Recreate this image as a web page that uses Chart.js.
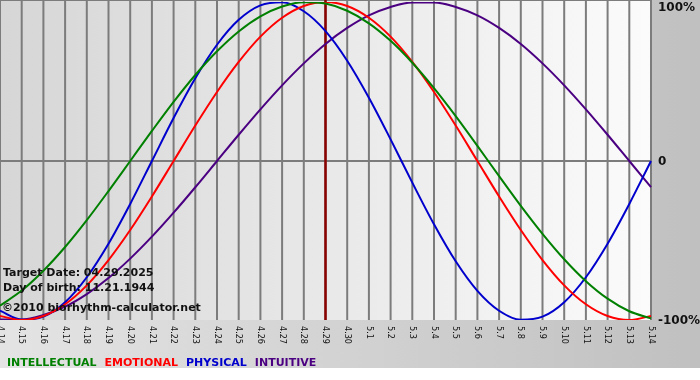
<!DOCTYPE html>
<html>
<head>
<meta charset="utf-8">
<script src="https://cdn.jsdelivr.net/npm/chart.js@4.4.1/dist/chart.umd.min.js"></script>
<style>
body { margin: 0; background: #fff; }
#wrap { position: relative; width: 700px; height: 380px; }
</style>
</head>
<body>
<div id="wrap"><canvas id="bioChart"></canvas></div>
<script>
// days shown on the x axis
var dayLabels = ['4.14', '4.15', '4.16', '4.17', '4.18', '4.19', '4.20', '4.21', '4.22', '4.23', '4.24',
    '4.25', '4.26', '4.27', '4.28', '4.29', '4.30', '5.1', '5.2', '5.3', '5.4', '5.5', '5.6', '5.7',
    '5.8', '5.9', '5.10', '5.11', '5.12', '5.13', '5.14'];

// cycle values in percent, one per day
var intellectual = [-91.0, -81.5, -69.0, -54.1, -37.2, -18.9, 0, 18.9, 37.2, 54.1, 69.0, 81.5, 91.0, 97.2, 99.9,
    99.0, 94.5, 86.6, 75.6, 61.8, 45.8, 28.2, 9.5, -9.5, -28.2, -45.8, -61.8, -75.6, -86.6, -94.5, -99.0];
var emotional = [-97.5, -100, -97.5, -90.1, -78.2, -62.3, -43.4, -22.3, 0, 22.3, 43.4, 62.3, 78.2, 90.1, 97.5,
    100, 97.5, 90.1, 78.2, 62.3, 43.4, 22.3, 0, -22.3, -43.4, -62.3, -78.2, -90.1, -97.5, -100, -97.5];
var physical = [-94.2, -99.8, -97.9, -88.8, -73.1, -52.0, -27.0, 0, 27.0, 52.0, 73.1, 88.8, 97.9, 99.8, 94.2,
    81.7, 63.1, 39.8, 13.6, -13.6, -39.8, -63.1, -81.7, -94.2, -99.8, -97.9, -88.8, -73.1, -52.0, -27.0, 0];
var intuitive = [-99.7, -99.7, -96.9, -91.6, -83.7, -73.6, -61.4, -47.6, -32.5, -16.5, 0, 16.5, 32.5, 47.6, 61.4,
    73.6, 83.7, 91.6, 96.9, 99.7, 99.7, 96.9, 91.6, 83.7, 73.6, 61.4, 47.6, 32.5, 16.5, 0, -16.5];

var targetDay = '4.29';
var yTickValues = [100, 0, -100];
var yTickLabels = ['100%', '0', '-100%'];
var seriesNames = ['INTELLECTUAL', 'EMOTIONAL', 'PHYSICAL', 'INTUITIVE'];
var seriesColors = ['#008000', '#ff0000', '#0000cd', '#4b0082'];
var infoLines = ['Target Date: 04.29.2025', 'Day of birth: 11.21.1944', '\u00a92010 biorhythm-calculator.net'];

var bioPlugin = {
    id: 'bioPlugin',
    beforeDraw: function (chart) {
        var ctx = chart.ctx;
        var area = chart.chartArea;
        var xs = chart.scales.x;
        var ys = chart.scales.y;
        ctx.save();

        // outer frame
        var g = ctx.createLinearGradient(0, 0, 700, 0);
        g.addColorStop(0, '#e4e4e4');
        g.addColorStop(1, '#c0c0c0');
        ctx.fillStyle = g;
        ctx.fillRect(0, 0, 700, 368);

        // plot background
        var pg = ctx.createLinearGradient(area.left, 0, area.right, 0);
        pg.addColorStop(0, '#d6d6d6');
        pg.addColorStop(1, '#fbfbfb');
        ctx.fillStyle = pg;
        ctx.fillRect(area.left, area.top - 2, area.right - area.left, area.bottom - area.top + 2);

        // grid
        ctx.strokeStyle = '#7c7c7c';
        ctx.lineWidth = 2;
        for (var i = 0; i < dayLabels.length; i++) {
            var px = xs.getPixelForValue(i);
            ctx.beginPath();
            ctx.moveTo(px, area.top - 2);
            ctx.lineTo(px, area.bottom);
            ctx.stroke();
        }
        var y0 = ys.getPixelForValue(0);
        ctx.beginPath();
        ctx.moveTo(area.left, y0);
        ctx.lineTo(area.right, y0);
        ctx.stroke();
        ctx.lineWidth = 1;
        ctx.beginPath();
        ctx.moveTo(area.left, 0.5);
        ctx.lineTo(area.right, 0.5);
        ctx.stroke();

        // target day marker
        var tx = xs.getPixelForValue(dayLabels.indexOf(targetDay));
        ctx.strokeStyle = '#8b0000';
        ctx.lineWidth = 2.5;
        ctx.beginPath();
        ctx.moveTo(tx, area.top - 2);
        ctx.lineTo(tx, area.bottom);
        ctx.stroke();
        ctx.restore();
    },
    afterDraw: function (chart) {
        var ctx = chart.ctx;
        var area = chart.chartArea;
        var xs = chart.scales.x;
        var ys = chart.scales.y;
        ctx.save();

        // info text
        ctx.fillStyle = '#111';
        ctx.font = 'bold 11px "DejaVu Sans"';
        ctx.textBaseline = 'alphabetic';
        ctx.textAlign = 'left';
        ctx.fillText(infoLines[0], 3, 276);
        ctx.fillText(infoLines[1], 3, 291);
        ctx.fillText(infoLines[2], 2, 311);

        // right axis labels
        ctx.font = 'bold 12px "DejaVu Sans"';
        ctx.textBaseline = 'middle';
        yTickValues.forEach(function (v, i) {
            var py = Math.max(ys.getPixelForValue(v), 7);
            ctx.fillText(yTickLabels[i], area.right + 7, py + 1);
        });

        // day labels, rotated
        ctx.font = '9px "DejaVu Sans Condensed", "Liberation Sans"';
        ctx.fillStyle = '#111';
        ctx.textAlign = 'left';
        ctx.textBaseline = 'middle';
        dayLabels.forEach(function (lab, i) {
            var px = xs.getPixelForValue(i);
            ctx.save();
            ctx.translate(px, area.bottom + 6);
            ctx.rotate(Math.PI / 2);
            ctx.fillText(lab, 0, 0);
            ctx.restore();
        });

        // legend
        ctx.font = 'bold 11px "DejaVu Sans"';
        ctx.textBaseline = 'alphabetic';
        var lx = 7;
        seriesNames.forEach(function (name, i) {
            ctx.fillStyle = seriesColors[i];
            ctx.fillText(name, lx, 366);
            lx += ctx.measureText(name).width + 8;
        });
        ctx.restore();
    }
};

var ctx = document.getElementById('bioChart').getContext('2d');
var chart = new Chart(ctx, {
    type: 'line',
    data: {
        labels: dayLabels,
        datasets: [
            { label: seriesNames[0], data: intellectual, borderColor: seriesColors[0] },
            { label: seriesNames[1], data: emotional, borderColor: seriesColors[1] },
            { label: seriesNames[2], data: physical, borderColor: seriesColors[2] },
            { label: seriesNames[3], data: intuitive, borderColor: seriesColors[3] }
        ]
    },
    options: {
        responsive: true,
        maintainAspectRatio: false,
        animation: false,
        layout: { padding: { left: 0, right: 49, top: 2, bottom: 60 } },
        scales: {
            x: { display: false },
            y: { display: false, min: -100, max: 100 }
        },
        elements: {
            point: { radius: 0 },
            line: { cubicInterpolationMode: 'monotone', borderWidth: 2, fill: false }
        },
        plugins: {
            legend: { display: false },
            tooltip: { enabled: false }
        }
    },
    plugins: [bioPlugin]
});
</script>
</body>
</html>
